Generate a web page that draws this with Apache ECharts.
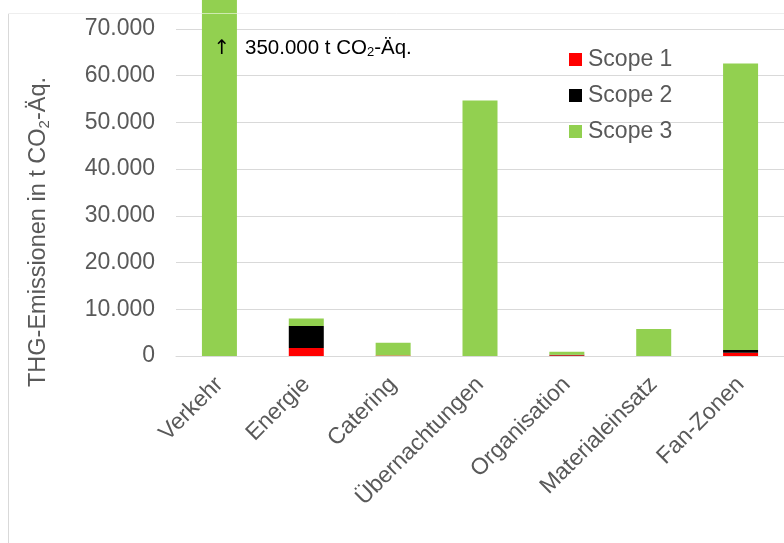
<!DOCTYPE html>
<html>
<head>
<meta charset="utf-8">
<style>
  html, body { margin: 0; padding: 0; background: #ffffff; }
  #chart { width: 784px; height: 543px; }
</style>
<script src="https://cdn.jsdelivr.net/npm/echarts@6/dist/echarts.min.js"></script>
</head>
<body>
<div id="chart"></div>
<script>
// Emission categories (x axis)
const categories = ['Verkehr', 'Energie', 'Catering', 'Übernachtungen', 'Organisation', 'Materialeinsatz', 'Fan-Zonen'];

// Emissions per scope in t CO2-eq.
const scope1 = [0, 1700, 100, 0, 150, 0, 700];
const scope2 = [0, 4700, 0, 0, 100, 0, 600];
const scope3 = [350000, 1600, 2750, 54700, 650, 5800, 61300];

// Visible value range of the y axis (Verkehr runs far beyond it)
const yMax = 76200;
const yInterval = 10000;

const seriesNames = ['Scope 1', 'Scope 2', 'Scope 3'];
const seriesColors = ['#ff0000', '#000000', '#92d050'];
const seriesData = [scope1, scope2, scope3];

const FONT = '"Liberation Sans", Arial, sans-serif';
const GREY = '#595959';

const chart = echarts.init(document.getElementById('chart'), null, { renderer: 'canvas' });

const fmt = v => {
  const s = String(Math.round(v));
  return s.replace(/\B(?=(\d{3})+(?!\d))/g, '.');
};

chart.setOption({
  animation: false,
  backgroundColor: '#ffffff',
  textStyle: { fontFamily: FONT },
  grid: { left: 176, width: 618, top: 0, bottom: 187, containLabel: false },
  legend: {
    orient: 'vertical',
    left: 564,
    top: 43,
    itemWidth: 13,
    itemHeight: 13,
    itemGap: 13,
    icon: 'rect',
    textStyle: { fontSize: 23, color: GREY, fontFamily: FONT, padding: [0, 0, 0, 1] },
    data: seriesNames
  },
  xAxis: {
    type: 'category',
    data: categories,
    axisLine: { show: true, lineStyle: { color: '#d9d9d9', width: 1 } },
    axisTick: { show: false },
    axisLabel: {
      rotate: 45,
      interval: 0,
      margin: 25,
      fontSize: 23,
      color: GREY,
      fontFamily: FONT
    }
  },
  yAxis: {
    type: 'value',
    min: 0,
    max: yMax,
    interval: yInterval,
    axisLine: { show: false },
    axisTick: { show: false },
    splitLine: { show: true, showMaxLine: false, lineStyle: { color: '#d9d9d9', width: 1 } },
    axisLabel: {
      showMaxLabel: false,
      margin: 21,
      fontSize: 23,
      color: GREY,
      fontFamily: FONT,
      formatter: v => (v % yInterval === 0 ? fmt(v) : '')
    }
  },
  series: seriesNames.map((name, i) => ({
    name: name,
    type: 'bar',
    stack: 'total',
    barWidth: 35,
    clip: true,
    itemStyle: { color: seriesColors[i] },
    data: seriesData[i]
  })),
  graphic: [
    {
      type: 'rect',
      z: -10,
      silent: true,
      shape: { x: 8.5, y: 13.5, width: 800, height: 600 },
      style: { fill: 'none', stroke: '#d9d9d9', lineWidth: 1 }
    },
    {
      type: 'line',
      z: 100,
      silent: true,
      shape: { x1: 8, y1: 13.5, x2: 784, y2: 13.5 },
      style: { stroke: 'rgba(255,255,255,0.55)', lineWidth: 1 }
    },
    {
      type: 'text',
      z: 100,
      silent: true,
      x: 39,
      y: 232,
      rotation: Math.PI / 2,
      style: {
        text: '{a|THG-Emissionen in t CO}{s|2}{a|-Äq.}',
        align: 'center',
        verticalAlign: 'middle',
        rich: {
          a: { fontSize: 23.5, fill: GREY, fontFamily: FONT },
          s: { fontSize: 15, fill: GREY, fontFamily: FONT, padding: [11, 0, 0, 0] }
        }
      }
    },
    {
      type: 'text',
      z: 100,
      silent: true,
      x: 222,
      y: 49,
      style: {
        text: '↑',
        align: 'center',
        verticalAlign: 'middle',
        fontSize: 20,
        fill: '#000000',
        fontFamily: '"DejaVu Sans", sans-serif'
      }
    },
    {
      type: 'text',
      z: 100,
      silent: true,
      x: 245,
      y: 48,
      style: {
        text: '{a|' + fmt(scope3[0]) + ' t CO}{s|2}{a|-Äq.}',
        align: 'left',
        verticalAlign: 'middle',
        rich: {
          a: { fontSize: 20.5, fill: '#000000', fontFamily: FONT },
          s: { fontSize: 13, fill: '#000000', fontFamily: FONT, padding: [9, 0, 0, 0] }
        }
      }
    }
  ]
});
</script>
</body>
</html>
